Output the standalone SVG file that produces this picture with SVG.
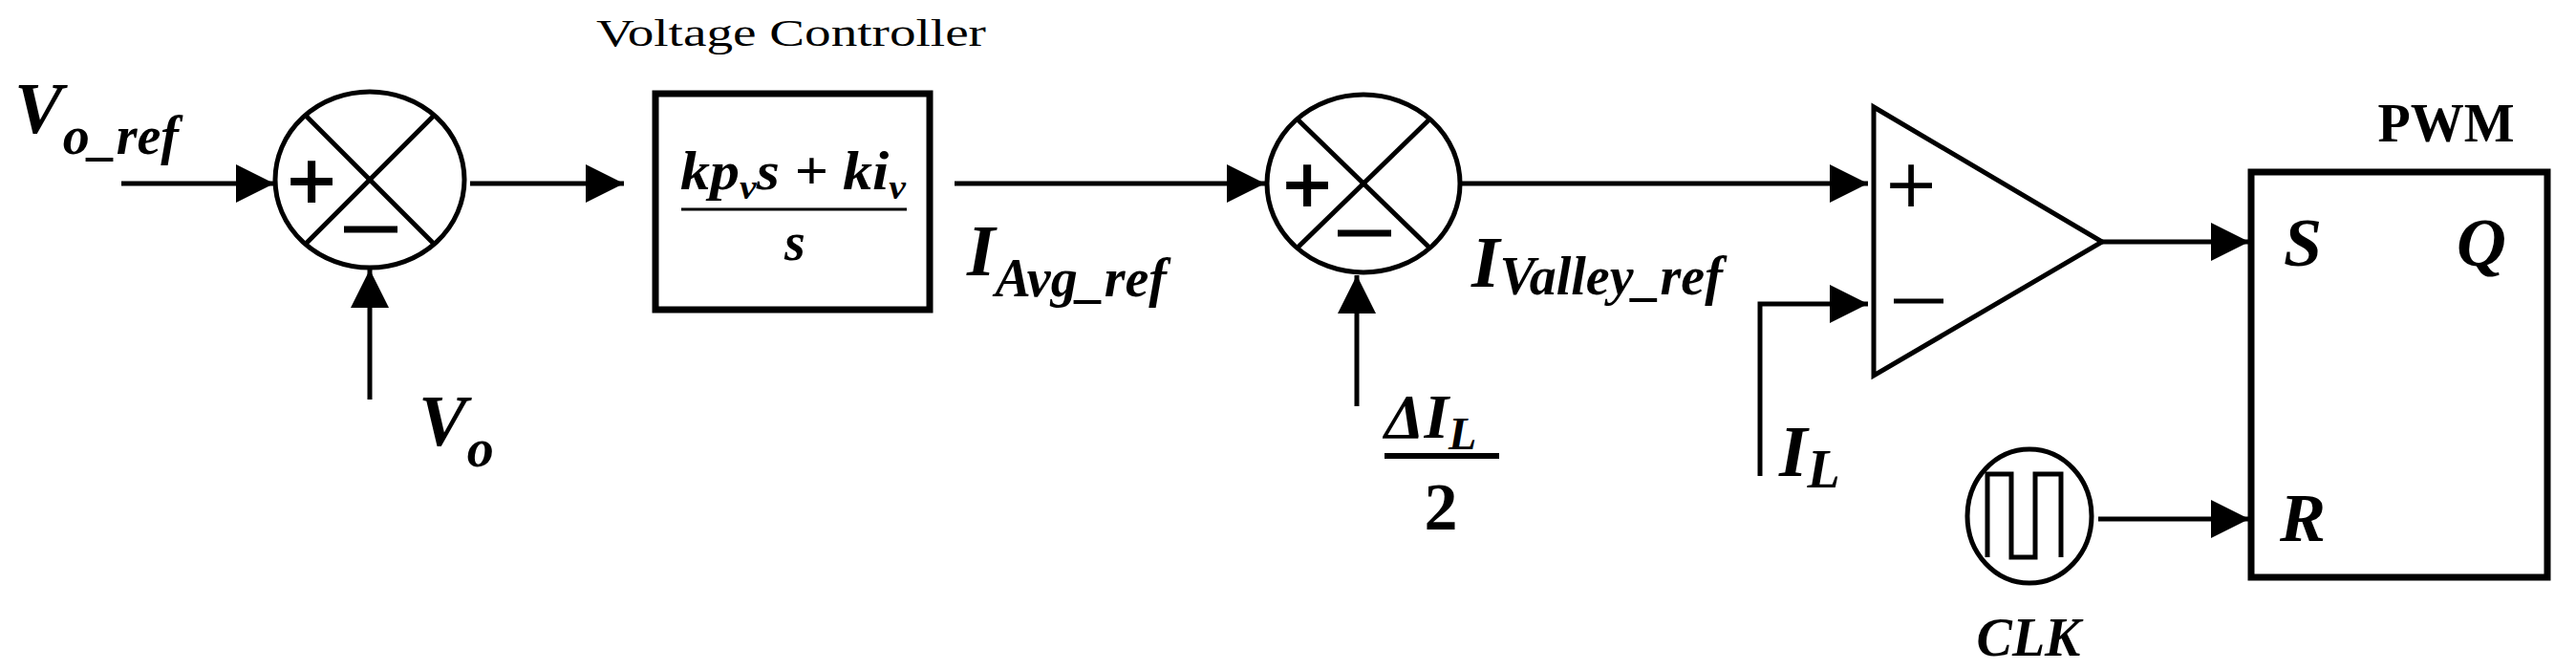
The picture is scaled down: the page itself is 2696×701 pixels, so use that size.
<svg xmlns="http://www.w3.org/2000/svg" width="2696" height="701" viewBox="0 0 2696 701">
<defs>
<marker id="ah" markerUnits="userSpaceOnUse" markerWidth="44" markerHeight="44" refX="40" refY="20" orient="auto"><path d="M0,0 L40,20 L0,40 Z" fill="#000"/></marker>
</defs>
<style>
.w{stroke:#000;stroke-width:5;fill:none}
.a{stroke:#000;stroke-width:5;fill:none;marker-end:url(#ah)}
.b{stroke:#000;stroke-width:7;fill:#fff}
.t{font-family:"Liberation Serif",serif;font-style:italic;font-weight:bold;fill:#000}
.u{font-family:"Liberation Serif",serif;font-weight:bold;fill:#000}
.s{font-family:"DejaVu Sans",sans-serif;fill:#000}
</style>
<rect width="2696" height="701" fill="#fff"/>
<g id="connectors">
<line class="a" x1="127" y1="192" x2="287" y2="192"/>
<line class="a" x1="387" y1="418" x2="387" y2="282"/>
<line class="a" x1="492" y1="192" x2="653" y2="192"/>
<line class="a" x1="999" y1="192" x2="1324" y2="192"/>
<line class="a" x1="1420" y1="425" x2="1420" y2="288"/>
<line class="a" x1="1530" y1="192" x2="1955" y2="192"/>
<polyline class="a" points="1842,498 1842,318 1955,318"/>
<line class="a" x1="2200" y1="253" x2="2354" y2="253"/>
<line class="a" x1="2196" y1="543" x2="2354" y2="543"/>
</g>
<g id="sum1">
<ellipse class="w" cx="387" cy="188" rx="99" ry="92"/>
<line class="w" x1="319" y1="120" x2="455" y2="256"/>
<line class="w" x1="455" y1="120" x2="319" y2="256"/>
<text class="s" x="326" y="212" font-size="70" text-anchor="middle" font-weight="bold">+</text>
<line x1="360" y1="240" x2="416" y2="240" stroke="#000" stroke-width="7"/>
</g>
<g id="controller">
<text x="828" y="48" font-family="Liberation Serif, serif" font-size="40" text-anchor="middle" textLength="408" lengthAdjust="spacingAndGlyphs">Voltage Controller</text>
<rect class="b" x="686" y="98" width="287" height="226"/>
<text class="t" x="830" y="198" font-size="56" text-anchor="middle" textLength="236" lengthAdjust="spacingAndGlyphs">kp<tspan font-size="36" dy="10">v</tspan><tspan dy="-10">s + ki</tspan><tspan font-size="36" dy="10">v</tspan></text>
<line x1="713" y1="219" x2="949" y2="219" stroke="#000" stroke-width="3"/>
<text class="t" x="832" y="272" font-size="56" text-anchor="middle">s</text>
</g>
<g id="sum2">
<ellipse class="w" cx="1427" cy="192" rx="101" ry="93"/>
<line class="w" x1="1357" y1="124" x2="1497" y2="260"/>
<line class="w" x1="1497" y1="124" x2="1357" y2="260"/>
<text class="s" x="1368" y="216" font-size="70" text-anchor="middle" font-weight="bold">+</text>
<line x1="1400" y1="244" x2="1456" y2="244" stroke="#000" stroke-width="7"/>
</g>
<g id="comparator">
<polygon class="w" points="1961,112 2200,253 1961,393"/>
<text class="s" x="2000" y="216" font-size="70" text-anchor="middle">+</text>
<line x1="1982" y1="315" x2="2034" y2="315" stroke="#000" stroke-width="5"/>
</g>
<g id="pwm">
<text class="u" x="2560" y="148" font-size="56" text-anchor="middle">PWM</text>
<rect class="b" x="2356" y="180" width="310" height="424" fill="none"/>
<text class="t" x="2410" y="278" font-size="72" text-anchor="middle">S</text>
<text class="t" x="2597" y="278" font-size="72" text-anchor="middle">Q</text>
<text class="t" x="2410" y="566" font-size="72" text-anchor="middle">R</text>
</g>
<g id="clk">
<ellipse class="w" cx="2124" cy="540" rx="65" ry="70"/>
<path class="w" d="M2080,583 V496 H2105 V583 H2130 V496 H2157 V583"/>
<text class="t" x="2123" y="686" font-size="56" text-anchor="middle">CLK</text>
</g>
<g id="labels">
<text class="t" x="15" y="139" font-size="76">V<tspan font-size="56" dy="22">o_ref</tspan></text>
<text class="t" x="438" y="466" font-size="76">V<tspan font-size="56" dy="22">o</tspan></text>
<text class="t" x="1012" y="288" font-size="76">I<tspan font-size="56" dy="22">Avg_ref</tspan></text>
<text class="t" x="1540" y="300" font-size="76">I<tspan font-size="56" dy="8">Valley_ref</tspan></text>
<text class="t" x="1449" y="458" font-size="66">ΔI<tspan font-size="48" dy="12">L</tspan></text>
<line x1="1449" y1="477" x2="1569" y2="477" stroke="#000" stroke-width="6"/>
<text class="u" x="1508" y="554" font-size="70" text-anchor="middle">2</text>
<text class="t" x="1862" y="498" font-size="76">I<tspan font-size="56" dy="12">L</tspan></text>
</g>
</svg>
